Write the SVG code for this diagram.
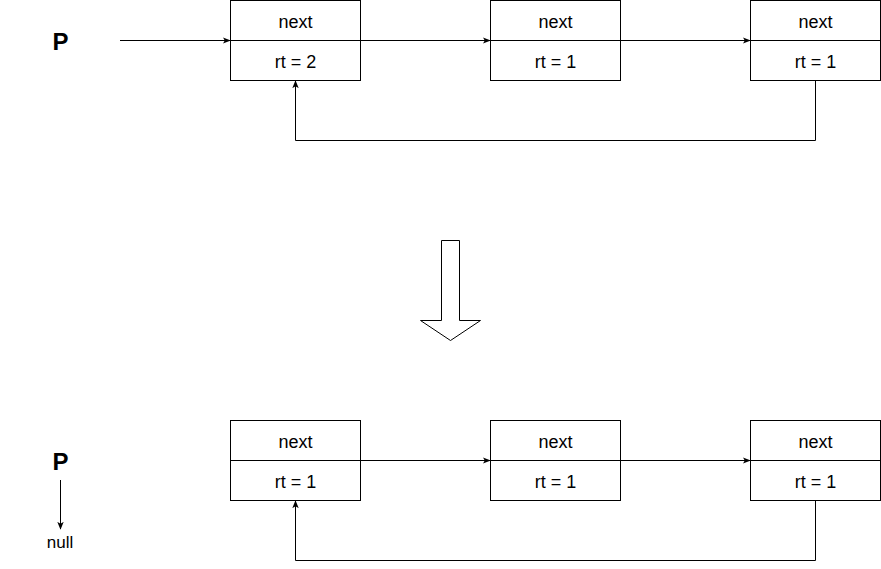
<svg xmlns="http://www.w3.org/2000/svg" width="881" height="569" viewBox="0 0 881 569">
<style>
.box{fill:#fff;stroke:#000;stroke-width:1}
.t{font-family:"Liberation Sans",Arial,sans-serif;font-size:18px;fill:#000;text-anchor:middle}
.p{font-family:"Liberation Sans",Arial,sans-serif;font-size:24px;font-weight:bold;fill:#000;text-anchor:middle}
.s{font-family:"Liberation Sans",Arial,sans-serif;font-size:17px;fill:#000;text-anchor:middle}
.c{fill:none;stroke:#000;stroke-width:1}
</style>
<defs>
<marker id="ah" viewBox="0 0 10 10" refX="9" refY="5" markerWidth="8" markerHeight="8" markerUnits="userSpaceOnUse" orient="auto">
<path d="M0,1 L10,5 L0,9 L2.5,5 Z" fill="#000"/>
</marker>
</defs>
<rect width="881" height="569" fill="#fff"/>
<g id="p-top"><text class="p" x="60.5" y="50">P</text></g>
<g id="n1"><rect class="box" x="230.5" y="0.5" width="130" height="80"/><line class="c" x1="230.5" y1="40.5" x2="360.5" y2="40.5"/><text class="t" x="295.5" y="28">next</text><text class="t" x="295.5" y="68">rt = 2</text></g>
<g id="n2"><rect class="box" x="490.5" y="0.5" width="130" height="80"/><line class="c" x1="490.5" y1="40.5" x2="620.5" y2="40.5"/><text class="t" x="555.5" y="28">next</text><text class="t" x="555.5" y="68">rt = 1</text></g>
<g id="n3"><rect class="box" x="750.5" y="0.5" width="130" height="80"/><line class="c" x1="750.5" y1="40.5" x2="880.5" y2="40.5"/><text class="t" x="815.5" y="28">next</text><text class="t" x="815.5" y="68">rt = 1</text></g>
<g id="big-arrow"><path d="M441.5,240.5 L459.5,240.5 L459.5,320.5 L480.5,320.5 L450.5,340.5 L420.5,320.5 L441.5,320.5 Z" fill="#fff" stroke="#000" stroke-width="1"/></g>
<g id="p-bottom"><text class="p" x="60.5" y="470">P</text></g>
<g id="null"><text class="s" x="60" y="548">null</text></g>
<g id="m1"><rect class="box" x="230.5" y="420.5" width="130" height="80"/><line class="c" x1="230.5" y1="460.5" x2="360.5" y2="460.5"/><text class="t" x="295.5" y="448">next</text><text class="t" x="295.5" y="488">rt = 1</text></g>
<g id="m2"><rect class="box" x="490.5" y="420.5" width="130" height="80"/><line class="c" x1="490.5" y1="460.5" x2="620.5" y2="460.5"/><text class="t" x="555.5" y="448">next</text><text class="t" x="555.5" y="488">rt = 1</text></g>
<g id="m3"><rect class="box" x="750.5" y="420.5" width="130" height="80"/><line class="c" x1="750.5" y1="460.5" x2="880.5" y2="460.5"/><text class="t" x="815.5" y="448">next</text><text class="t" x="815.5" y="488">rt = 1</text></g>
<g id="connectors">
<path class="c" d="M120,40.5 L230,40.5" marker-end="url(#ah)"/>
<path class="c" d="M360.5,40.5 L490,40.5" marker-end="url(#ah)"/>
<path class="c" d="M620.5,40.5 L750,40.5" marker-end="url(#ah)"/>
<path class="c" d="M815.5,80.5 L815.5,140.5 L295.5,140.5 L295.5,81" marker-end="url(#ah)"/>
<path class="c" d="M360.5,460.5 L490,460.5" marker-end="url(#ah)"/>
<path class="c" d="M620.5,460.5 L750,460.5" marker-end="url(#ah)"/>
<path class="c" d="M815.5,500.5 L815.5,560.5 L295.5,560.5 L295.5,501" marker-end="url(#ah)"/>
<path class="c" d="M60.5,480 L60.5,529" marker-end="url(#ah)"/>
</g>
</svg>
